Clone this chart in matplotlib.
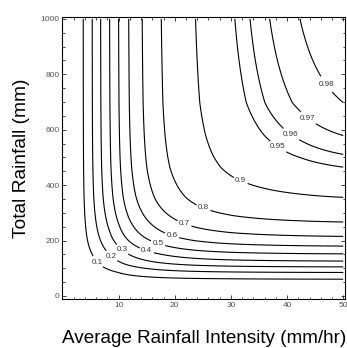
#!/usr/bin/env python3
# Contour map of probability vs rainfall intensity and total rainfall

import numpy as np
import matplotlib.pyplot as plt
from matplotlib.ticker import MultipleLocator

plt.rcParams['font.family'] = ['Liberation Sans', 'DejaVu Sans']

# contour levels and where each one meets the top edge (x) and right edge (y)
levels = [0.1, 0.2, 0.3, 0.4, 0.5, 0.6, 0.7, 0.8, 0.9, 0.95, 0.96, 0.97, 0.98]
x_top = [3.7, 5.3, 6.8, 8.4, 10.0, 11.8, 14.2, 17.6, 23.7, 30.7, 33.4, 36.9, 42.3]
y_right = [61, 85, 105, 126, 152, 180, 215, 267, 356, 465, 511, 579, 698]
edge_max = 0.994  # factor value reached at x=50 / y=1000

# label positions
lab_x = [5.9, 8.6, 10.8, 15.0, 17.1, 19.6, 21.7, 25.0, 31.7, 37.8, 40.4, 43.2, 46.5]
lab_y = [117, 142, 171, 162, 195, 224, 260, 313, 414, 521, 575, 629, 757]

lev = np.array(levels)
gx = np.concatenate([[0.0], x_top, [50.0]])
hy = np.concatenate([[0.0], y_right, [1000.0]])
# profile values at the nodes, kept as log(1 - v) so the curves bend smoothly
nodes = np.log(1 - np.concatenate([[0.0], lev / edge_max, [edge_max]]))

xs = np.linspace(0, 50, 501)
ys = np.linspace(0, 1000, 501)
gfac = 1 - np.exp(np.interp(xs, gx, nodes))
hfac = 1 - np.exp(np.interp(ys, hy, nodes))
Z = np.outer(hfac, gfac)

fig = plt.figure(figsize=(3.47, 3.48), dpi=100)
ax = fig.add_axes([0.180, 0.140, 0.814, 0.812])

cs = ax.contour(xs, ys, Z, levels=levels, colors='black', linewidths=0.8)
txt = ax.clabel(cs, manual=list(zip(lab_x, lab_y)), fontsize=5.8, inline=True,
                inline_spacing=2, fmt=lambda v: f'{v:g}')
for t in txt:
  t.set_rotation(0)
  t.set_color('#333333')

ax.set_xlim(0, 50.3)
ax.set_ylim(-12, 1008)

ax.xaxis.set_major_locator(MultipleLocator(10))
ax.xaxis.set_minor_locator(MultipleLocator(2))
ax.yaxis.set_major_locator(MultipleLocator(200))
ax.yaxis.set_minor_locator(MultipleLocator(50))
ax.set_xticks([10, 20, 30, 40, 50])
ax.tick_params(which='both', direction='in', top=True, right=True,
               labelsize=6, labelcolor='#555555', color='#222222', pad=2)
ax.tick_params(which='major', length=3, width=0.6)
ax.tick_params(which='minor', length=1.8, width=0.6)
for s in ax.spines.values():
  s.set_linewidth(0.8)

ax.set_xlabel('Average Rainfall Intensity (mm/hr)', fontsize=13.6, labelpad=15)
ax.set_ylabel('Total Rainfall (mm)', fontsize=13.8, labelpad=8)

plt.savefig('out.png', dpi=100)
